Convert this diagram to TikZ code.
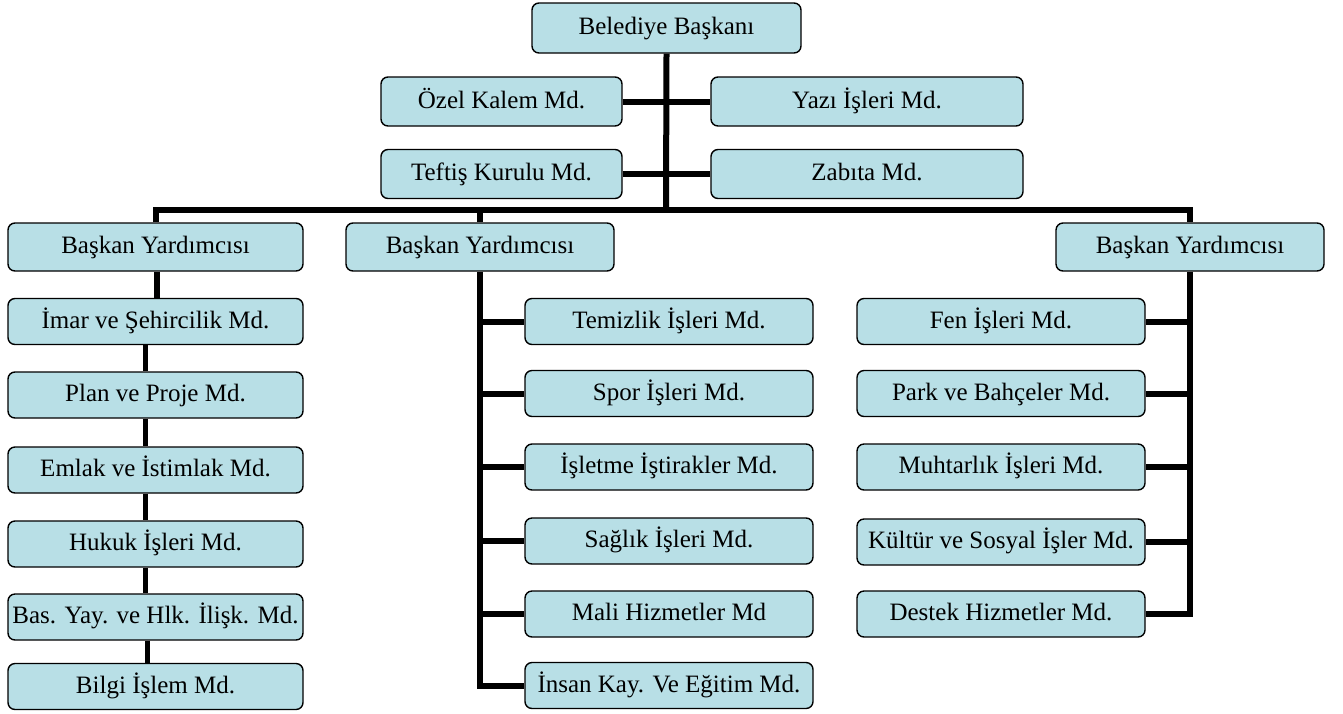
\documentclass[tikz,border=0pt]{standalone}
\usepackage{fontspec}
\setmainfont{Liberation Serif}
\definecolor{kutumavi}{RGB}{184,223,230}
\begin{document}
\begin{tikzpicture}[x=1pt,y=-1pt,
   kutu/.style={draw=black,line width=1.4pt,fill=kutumavi,rounded corners=7pt,
      minimum height=46pt,inner sep=0pt,text height=17pt,text depth=4pt,
      font=\fontsize{25}{28}\selectfont},
   hat/.style={line width=6pt},
   ince/.style={line width=5pt}]
   \useasboundingbox (0,0) rectangle (1343,713);
   % baskan ve bagli mudurlukler
   \node[kutu,minimum width=269pt,minimum height=50pt] (bb)     at ( 666.5, 28.0) {Belediye Başkanı};
   \node[kutu,minimum width=241pt,minimum height=49pt] (ozel)   at ( 501.5,101.5) {Özel Kalem Md.};
   \node[kutu,minimum width=312pt,minimum height=49pt] (yazi)   at ( 867.0,101.5) {Yazı İşleri Md.};
   \node[kutu,minimum width=241pt,minimum height=49pt] (teftis) at ( 501.5,174.0) {Teftiş Kurulu Md.};
   \node[kutu,minimum width=312pt,minimum height=49pt] (zabita) at ( 867.0,174.0) {Zabıta Md.};
   % baskan yardimcilari
   \node[kutu,minimum width=295pt,minimum height=48pt] (yda)    at ( 155.5,247.0) {Başkan Yardımcısı};
   \node[kutu,minimum width=268pt,minimum height=48pt] (ydb)    at ( 480.0,247.0) {Başkan Yardımcısı};
   \node[kutu,minimum width=268pt,minimum height=48pt] (ydc)    at (1190.0,247.0) {Başkan Yardımcısı};
   % sol sutun
   \node[kutu,minimum width=295pt] (imar)   at ( 155.5,321.5) {İmar ve Şehircilik Md.};
   \node[kutu,minimum width=295pt] (plan)   at ( 155.5,395.0) {Plan ve Proje Md.};
   \node[kutu,minimum width=295pt] (emlak)  at ( 155.5,470.0) {Emlak ve İstimlak Md.};
   \node[kutu,minimum width=295pt] (hukuk)  at ( 155.5,544.0) {Hukuk İşleri Md.};
   \node[kutu,minimum width=295pt] (basin)  at ( 155.5,617.0) {Bas. Yay. ve Hlk. İlişk. Md.};
   \node[kutu,minimum width=295pt] (bilgi)  at ( 155.5,686.5) {Bilgi İşlem Md.};
   % orta sutun
   \node[kutu,minimum width=288pt] (temiz)  at ( 669.0,321.5) {Temizlik İşleri Md.};
   \node[kutu,minimum width=288pt] (spor)   at ( 669.0,393.5) {Spor İşleri Md.};
   \node[kutu,minimum width=288pt] (islet)  at ( 669.0,467.0) {İşletme İştirakler Md.};
   \node[kutu,minimum width=288pt] (saglik) at ( 669.0,541.0) {Sağlık İşleri Md.};
   \node[kutu,minimum width=288pt] (mali)   at ( 669.0,614.0) {Mali Hizmetler Md};
   \node[kutu,minimum width=288pt] (insan)  at ( 669.0,685.5) {İnsan Kay. Ve Eğitim Md.};
   % sag sutun
   \node[kutu,minimum width=288pt] (fen)    at (1001.0,321.5) {Fen İşleri Md.};
   \node[kutu,minimum width=288pt] (park)   at (1001.0,393.5) {Park ve Bahçeler Md.};
   \node[kutu,minimum width=288pt] (muhtar) at (1001.0,467.0) {Muhtarlık İşleri Md.};
   \node[kutu,minimum width=288pt] (kultur) at (1001.0,542.0) {Kültür ve Sosyal İşler Md.};
   \node[kutu,minimum width=288pt] (destek) at (1001.0,614.0) {Destek Hizmetler Md.};
   % baglantilar
   \coordinate (bar) at (666,210);
   \draw[hat] (bb.south) -- (bar);
   \draw[hat] (ozel.east) -- (yazi.west);
   \draw[hat] (teftis.east) -- (zabita.west);
   \draw[hat] (yda.north) |- (bar) -| (ydc.north);
   \draw[hat] (ydb.north) -- (ydb.north |- bar);
   \draw[hat] ([xshift=1.5pt]yda.south) -- ([xshift=1.5pt]imar.north);
   \draw[ince] ([xshift=-10pt]imar.south)  -- ([xshift=-10pt]plan.north);
   \draw[ince] ([xshift=-10pt]plan.south)  -- ([xshift=-10pt]emlak.north);
   \draw[ince] ([xshift=-10pt]emlak.south) -- ([xshift=-10pt]hukuk.north);
   \draw[ince] ([xshift=-10pt]hukuk.south) -- ([xshift=-10pt]basin.north);
   \draw[ince] ([xshift=-8pt]basin.south)  -- ([xshift=-8pt]bilgi.north);
   \draw[hat] (ydb.south) |- (insan.west);
   \foreach \k in {temiz,spor,islet,saglik,mali}
      \draw[hat] (ydb.south |- \k.west) -- (\k.west);
   \draw[hat] (ydc.south) |- (destek.east);
   \foreach \k in {fen,park,muhtar,kultur}
      \draw[hat] (ydc.south |- \k.east) -- (\k.east);
\end{tikzpicture}
\end{document}
